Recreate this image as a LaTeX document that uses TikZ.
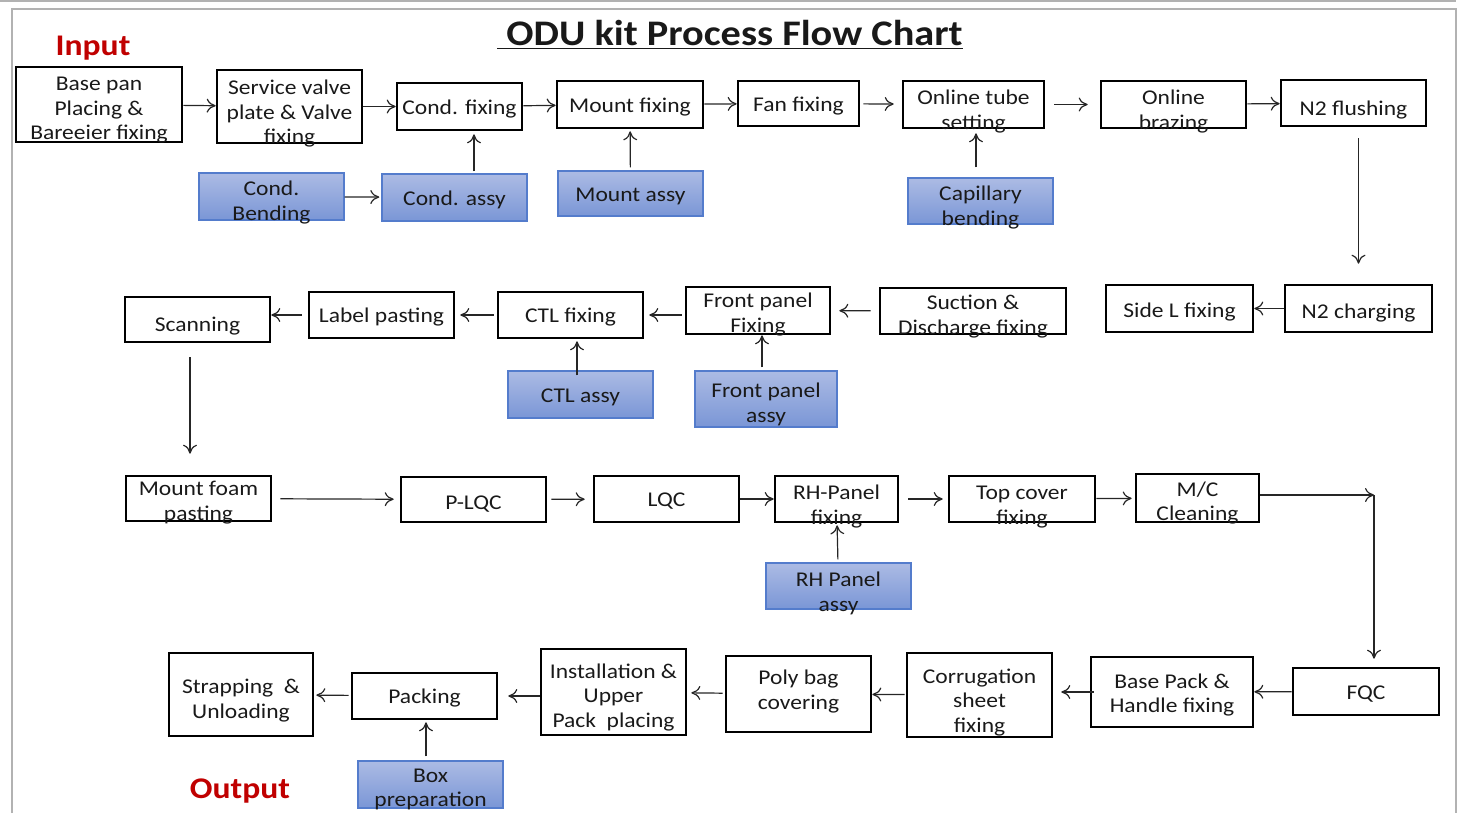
\documentclass[tikz,border=0pt]{standalone}
\usepackage{fontspec}
\setmainfont{Carlito}[FakeStretch=1.12]
\usetikzlibrary{arrows.meta}

\definecolor{partTop}{RGB}{172,187,228}
\definecolor{partBot}{RGB}{122,150,214}
\definecolor{partLine}{RGB}{84,124,204}
\definecolor{ioRed}{RGB}{192,0,0}

\newcommand\tx[2][0]{\raisebox{-\dimexpr #1pt+4.1pt\relax}[0pt][0pt]{\begin{tabular}{@{}c@{}}#2\end{tabular}}}

\begin{document}
\begin{tikzpicture}[x=0.5pt,y=-0.5pt,
  every node/.style={font=\fontsize{10.5}{12.3}\selectfont,text=black!90},
  stepbox/.style={draw,line width=1.3pt,inner sep=0pt},
  partbox/.style={draw=partLine,line width=0.7pt,top color=partTop,bottom color=partBot,inner sep=0pt},
  wh/.style 2 args={minimum width=#1*0.5pt,minimum height=#2*0.5pt},
  flow/.style={line width=0.6pt,black!85},
  >={To[length=4.5pt,width=7pt]}]

\useasboundingbox (0,0) rectangle (1460,813);
\draw[gray!60,line width=1pt] (0,1) -- (1456,1);
\draw[gray!60,line width=1pt] (12,813) |- (1456,9) -- (1456,813);

\node[font=\fontsize{18}{21}\selectfont\bfseries] (title) at (730,35) {\underline{\ ODU kit Process Flow Chart}};
\node[font=\fontsize{15}{18}\selectfont\bfseries,text=ioRed] (in) at (93,48) {Input};
\node[font=\fontsize{15}{18}\selectfont\bfseries,text=ioRed] (out) at (240,791) {Output};

\node[stepbox,wh={166}{75}] (1) at (99,104.5) {\tx[1.5]{Base pan\\Placing \&\\Bareeier fixing}};
\node[stepbox,wh={145}{73}] (2) at (289.5,106.5) {\tx[2.5]{Service valve\\plate \& Valve\\fixing}};
\node[stepbox,wh={125}{47}] (3) at (459.5,106.5) {\tx{Cond. fixing}};
\node[stepbox,wh={146}{47}] (4) at (630,104.5) {\tx{Mount fixing}};
\node[stepbox,wh={121}{45}] (5) at (798.5,103.5) {\tx{Fan fixing}};
\node[stepbox,wh={141}{47}] (6) at (973.5,104.5) {\tx[2.5]{Online tube\\setting}};
\node[stepbox,wh={145}{47}] (7) at (1173.5,104.5) {\tx[2.5]{Online\\brazing}};
\node[stepbox,wh={145}{46}] (8) at (1353.5,103) {\tx[2.5]{N2 flushing}};

\node[partbox,wh={145}{47}] (31) at (271.5,196.5) {\tx[2]{Cond.\\Bending}};
\node[partbox,wh={145}{47}] (32) at (454.5,197.5) {\tx{Cond. assy}};
\node[partbox,wh={145}{45}] (33) at (630.5,193.5) {\tx{Mount assy}};
\node[partbox,wh={145}{46}] (34) at (980.5,201) {\tx[2.2]{Capillary\\bending}};

\node[stepbox,wh={147}{47}] (9) at (1358.5,308.5) {\tx[1.2]{N2 charging}};
\node[stepbox,wh={147}{47}] (10) at (1179.5,308.5) {\tx[0.8]{Side L fixing}};
\node[stepbox,wh={186}{46}] (11) at (973,311) {\tx[1.8]{Suction \&\\Discharge fixing}};
\node[stepbox,wh={144}{47}] (12) at (758,310.5) {\tx[1]{Front panel\\Fixing}};
\node[stepbox,wh={145}{46}] (13) at (570.5,315) {\tx{CTL fixing}};
\node[stepbox,wh={145}{46}] (14) at (381.5,315) {\tx{Label pasting}};
\node[stepbox,wh={145}{45}] (15) at (197.5,319.5) {\tx[2.2]{Scanning}};

\node[partbox,wh={145}{47}] (35) at (580.5,394.5) {\tx{CTL assy}};
\node[partbox,wh={142}{56}] (36) at (766,399) {\tx[1.8]{Front panel\\assy}};

\node[stepbox,wh={145}{45}] (16) at (198.5,498.5) {\tx[1]{Mount foam\\pasting}};
\node[stepbox,wh={145}{45}] (17) at (473.5,499.5) {\tx[1.2]{P-LQC}};
\node[stepbox,wh={145}{46}] (18) at (666.5,499) {\tx{LQC}};
\node[stepbox,wh={123}{46}] (19) at (836.5,499) {\tx[2.8]{RH-Panel\\fixing}};
\node[stepbox,wh={146}{46}] (20) at (1022,499) {\tx[2.8]{Top cover\\fixing}};
\node[stepbox,wh={123}{48}] (21) at (1197.5,498) {\tx[1.5]{M/C\\Cleaning}};
\coordinate (turn) at (1374,495);

\node[partbox,wh={145}{46}] (37) at (838.5,586) {\tx[2.8]{RH Panel\\assy}};

\node[stepbox,wh={146}{47}] (22) at (1366,691.5) {\tx{FQC}};
\node[stepbox,wh={162}{70}] (23) at (1172,692) {\tx[0.5]{Base Pack \&\\Handle fixing}};
\node[stepbox,wh={145}{84}] (24) at (979.5,695) {\tx[2.5]{Corrugation\\sheet\\fixing}};
\node[stepbox,wh={145}{76}] (25) at (798.5,694) {\tx[-2.2]{Poly bag\\covering}};
\node[stepbox,wh={145}{86}] (26) at (613.5,692) {\tx[1.5]{Installation \&\\Upper\\Pack~~placing}};
\node[stepbox,wh={145}{46}] (27) at (424.5,696) {\tx{Packing}};
\node[stepbox,wh={144}{83}] (28) at (241,694.5) {\tx[2]{Strapping~~\&\\Unloading}};

\node[partbox,wh={145}{47}] (38) at (430.5,784.5) {\tx[1.2]{Box\\preparation}};

\path[->,flow]
(1) edge (2)
(2) edge (3)
(3) edge (4)
(4) edge (5)
(5) edge[shorten <=1.5pt,shorten >=4pt] (6)
(6) edge[shorten <=4.5pt,shorten >=6pt] (7)
(7) edge (8)
(8.south -| 9) edge[shorten <=5.5pt,shorten >=10pt] (9)
(31) edge[shorten >=1pt] (32)
([xshift=9.75pt]32.north) edge[shorten <=1pt,shorten >=1.5pt] ([xshift=9.75pt]32.north |- 3.south)
(33) edge[shorten <=1.5pt,shorten >=1pt] (4)
([xshift=-2.25pt]34.north) edge[shorten <=5pt,shorten >=2pt] ([xshift=-2.25pt]34.north |- 6.south);

\path[->,flow]
(9) edge (10)
(11) edge[shorten <=4pt,shorten >=4pt] (12)
(12.west |- 13) edge[shorten <=1.5pt,shorten >=2.5pt] (13)
(13) edge[shorten <=1.5pt,shorten >=2.5pt] (14)
(14) edge[shorten <=3pt] (14 -| 15.east)
([xshift=-1.75pt]35.north) edge[shorten <=-2.5pt,shorten >=1pt] ([xshift=-1.75pt]35.north |- 13.south)
([xshift=-2pt]36.north) edge[shorten <=1.5pt] ([xshift=-2pt]36.north |- 12.south)
([xshift=-3.75pt]15.south) edge[shorten <=7pt,shorten >=10.5pt] ([xshift=-3.75pt]15.south |- 16.north);

\path[->,flow]
(16) edge[shorten <=4pt,shorten >=3pt] (17)
(17) edge[shorten <=2pt,shorten >=4pt] (18)
(18) edge (19)
(19) edge[shorten <=4.5pt,shorten >=2.5pt] (20)
(20) edge[shorten >=1.5pt] (21)
(turn -| 21.east) edge (turn)
(turn) edge[shorten >=4pt] (turn |- 22.north)
(37) edge[shorten <=1.5pt,shorten >=1pt] (19);

\path[->,flow]
(22) edge (23)
(23) edge[shorten <=-2pt,shorten >=4pt] (23 -| 24.east)
(24) edge[shorten <=0.5pt] (25)
(25) edge[shorten <=1pt,shorten >=2pt] (26)
(26.west |- 27) edge[shorten >=5pt] (27)
(27) edge[shorten <=1pt,shorten >=1pt] (28)
([xshift=-2.25pt]38.north) edge[shorten <=2pt,shorten >=1pt] ([xshift=-2.25pt]38.north |- 27.south);

\end{tikzpicture}
\end{document}
